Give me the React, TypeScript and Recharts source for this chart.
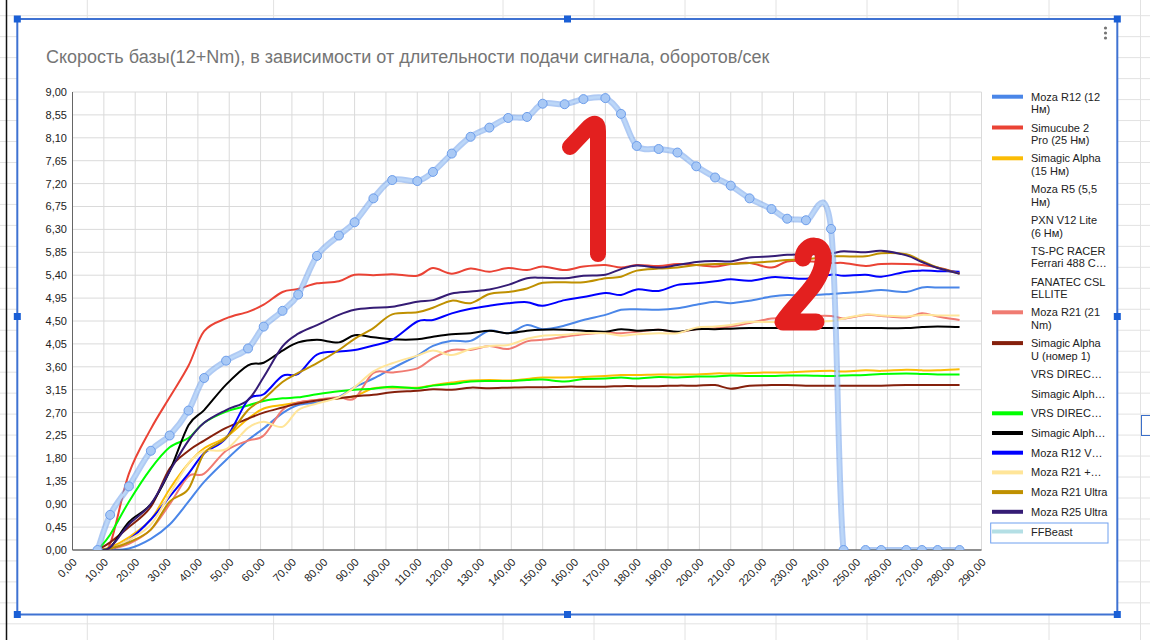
import React from "react";
import { LineChart, Line, XAxis, YAxis, CartesianGrid } from "recharts";

// длительность сигнала (ось X) — общая для всех рядов
const xs = [8, 12, 18, 25, 31, 37, 42, 49, 56, 61, 67, 72, 78, 85, 90, 96, 102, 110, 115, 121, 127, 133, 139, 145, 150, 157, 163, 170, 175, 180, 187, 193, 199, 205, 210, 216, 223, 228, 234, 242, 246, 253, 258, 266, 271, 276, 283];

const mozaR12 = [0, 0, 0.03, 0.22, 0.5, 0.95, 1.34, 1.77, 2.16, 2.39, 2.69, 2.85, 2.9, 3.01, 3.2, 3.37, 3.57, 3.82, 4.01, 4.11, 4.11, 4.31, 4.26, 4.42, 4.34, 4.41, 4.52, 4.62, 4.72, 4.73, 4.72, 4.75, 4.82, 4.88, 4.85, 4.9, 4.98, 5.01, 5.0, 5.03, 5.05, 5.08, 5.11, 5.07, 5.16, 5.16, 5.16];
const simucube = [0, 0.12, 1.5, 2.38, 3.0, 3.62, 4.3, 4.55, 4.68, 4.82, 5.07, 5.13, 5.24, 5.28, 5.41, 5.4, 5.42, 5.39, 5.54, 5.43, 5.53, 5.47, 5.54, 5.5, 5.57, 5.5, 5.57, 5.6, 5.55, 5.6, 5.58, 5.62, 5.6, 5.57, 5.62, 5.64, 5.55, 5.67, 5.68, 5.64, 5.64, 5.58, 5.62, 5.62, 5.6, 5.55, 5.44];
const simagic15 = [0, 0.05, 0.25, 0.6, 1.2, 1.7, 2.0, 2.22, 2.58, 2.78, 2.85, 2.9, 2.95, 2.98, 3.02, 3.18, 3.19, 3.19, 3.24, 3.29, 3.33, 3.34, 3.33, 3.36, 3.39, 3.39, 3.4, 3.42, 3.44, 3.44, 3.45, 3.45, 3.45, 3.47, 3.47, 3.48, 3.49, 3.49, 3.51, 3.52, 3.51, 3.53, 3.52, 3.54, 3.53, 3.53, 3.55];
const mozaR21 = [0, 0.02, 0.12, 0.4, 0.9, 1.45, 1.5, 1.95, 2.15, 2.25, 2.75, 2.9, 2.95, 3.0, 2.98, 3.48, 3.49, 3.57, 3.77, 3.93, 3.93, 4.01, 3.95, 4.1, 4.13, 4.19, 4.24, 4.27, 4.26, 4.29, 4.33, 4.28, 4.34, 4.36, 4.39, 4.46, 4.55, 4.55, 4.59, 4.6, 4.55, 4.62, 4.6, 4.57, 4.65, 4.59, 4.52];
const simagicU = [0, 0.15, 0.45, 0.85, 1.6, 1.95, 2.15, 2.4, 2.58, 2.7, 2.8, 2.88, 2.94, 2.98, 3.02, 3.05, 3.1, 3.13, 3.16, 3.15, 3.19, 3.18, 3.19, 3.2, 3.2, 3.21, 3.21, 3.21, 3.22, 3.22, 3.22, 3.23, 3.23, 3.24, 3.17, 3.23, 3.24, 3.24, 3.23, 3.23, 3.23, 3.23, 3.23, 3.24, 3.24, 3.24, 3.24];
const vrsGreen = [0, 0.3, 0.95, 1.6, 2.02, 2.2, 2.5, 2.72, 2.84, 2.93, 2.98, 3.0, 3.06, 3.12, 3.15, 3.17, 3.21, 3.18, 3.23, 3.26, 3.31, 3.32, 3.32, 3.34, 3.35, 3.31, 3.36, 3.37, 3.39, 3.37, 3.4, 3.39, 3.41, 3.41, 3.43, 3.42, 3.42, 3.43, 3.43, 3.42, 3.43, 3.44, 3.46, 3.47, 3.46, 3.45, 3.45];
const simagicBlack = [0, 0.05, 0.55, 0.9, 1.55, 2.45, 2.75, 3.25, 3.63, 3.68, 3.92, 4.08, 4.13, 4.08, 4.22, 4.18, 4.14, 4.14, 4.19, 4.24, 4.26, 4.31, 4.26, 4.31, 4.33, 4.33, 4.31, 4.29, 4.34, 4.31, 4.33, 4.29, 4.34, 4.34, 4.35, 4.36, 4.36, 4.36, 4.36, 4.36, 4.36, 4.36, 4.36, 4.36, 4.38, 4.39, 4.38];
const mozaR12V = [0, 0.02, 0.2, 0.6, 1.05, 1.5, 1.9, 2.2, 2.95, 3.06, 3.42, 3.46, 3.84, 3.9, 3.93, 4.02, 4.13, 4.49, 4.52, 4.65, 4.74, 4.8, 4.85, 4.87, 4.8, 4.91, 4.97, 5.05, 5.01, 5.12, 5.09, 5.21, 5.24, 5.28, 5.32, 5.29, 5.36, 5.35, 5.33, 5.41, 5.39, 5.41, 5.37, 5.47, 5.49, 5.48, 5.47];
const mozaR21Plus = [0, 0.02, 0.2, 0.5, 1.1, 1.7, 1.95, 1.98, 2.4, 2.52, 2.42, 2.75, 2.88, 3.0, 3.2, 3.51, 3.67, 3.82, 3.92, 3.83, 3.95, 4.01, 4.03, 4.15, 4.21, 4.23, 4.26, 4.26, 4.21, 4.24, 4.26, 4.26, 4.37, 4.39, 4.42, 4.48, 4.48, 4.48, 4.49, 4.5, 4.55, 4.63, 4.61, 4.59, 4.62, 4.61, 4.61];
const mozaR21Ultra = [0, 0.03, 0.15, 0.4, 0.95, 1.2, 1.9, 2.2, 2.75, 2.97, 3.3, 3.48, 3.67, 3.93, 4.15, 4.36, 4.63, 4.67, 4.76, 4.9, 4.85, 5.03, 5.07, 5.14, 5.25, 5.26, 5.26, 5.34, 5.37, 5.49, 5.53, 5.55, 5.6, 5.62, 5.62, 5.64, 5.67, 5.7, 5.71, 5.77, 5.77, 5.77, 5.83, 5.81, 5.68, 5.55, 5.43];
const mozaR25Ultra = [0, 0.05, 0.5, 0.9, 1.55, 2.15, 2.5, 2.75, 2.95, 3.4, 4.0, 4.25, 4.42, 4.62, 4.72, 4.76, 4.78, 4.88, 4.91, 5.04, 5.08, 5.12, 5.21, 5.34, 5.35, 5.34, 5.39, 5.41, 5.52, 5.59, 5.55, 5.6, 5.66, 5.68, 5.67, 5.75, 5.77, 5.8, 5.81, 5.83, 5.87, 5.85, 5.88, 5.79, 5.66, 5.54, 5.43];
const ffbeast = [0, 0.69, 1.25, 1.95, 2.25, 2.74, 3.38, 3.72, 3.96, 4.39, 4.7, 5.02, 5.78, 6.18, 6.44, 6.91, 7.27, 7.25, 7.43, 7.79, 8.12, 8.3, 8.49, 8.51, 8.77, 8.76, 8.86, 8.88, 8.57, 7.94, 7.88, 7.81, 7.54, 7.32, 7.16, 6.91, 6.7, 6.51, 6.48, 6.31, 0, 0, 0, 0, 0, 0, 0];

const xTicks = [0, 10, 20, 30, 40, 50, 60, 70, 80, 90, 100, 110, 120, 130, 140, 150, 160, 170, 180, 190, 200, 210, 220, 230, 240, 250, 260, 270, 280, 290];
const yTicks = [0, 0.45, 0.9, 1.35, 1.8, 2.25, 2.7, 3.15, 3.6, 4.05, 4.5, 4.95, 5.4, 5.85, 6.3, 6.75, 7.2, 7.65, 8.1, 8.55, 9];

const title = "Скорость базы(12+Nm), в зависимости от длительности подачи сигнала, оборотов/сек";

// легенда: строки подписи и цвет (null — ряд без линии)
const legendItems: { lines: string[]; color: string | null }[] = [
  { lines: ["Moza R12 (12", "Нм)"], color: "#4a86e8" },
  { lines: ["Simucube 2", "Pro (25 Нм)"], color: "#ea4335" },
  { lines: ["Simagic Alpha", "(15 Нм)"], color: "#fbbc04" },
  { lines: ["Moza R5 (5,5", "Нм)"], color: null },
  { lines: ["PXN V12 Lite", "(6 Нм)"], color: null },
  { lines: ["TS-PC RACER", "Ferrari 488 C…"], color: null },
  { lines: ["FANATEC CSL", "ELLITE"], color: null },
  { lines: ["Moza R21 (21", "Nm)"], color: "#f07b72" },
  { lines: ["Simagic Alpha", "U (номер 1)"], color: "#85200c" },
  { lines: ["VRS DIREC…"], color: null },
  { lines: ["Simagic Alph…"], color: null },
  { lines: ["VRS DIREC…"], color: "#00ff00" },
  { lines: ["Simagic Alph…"], color: "#000000" },
  { lines: ["Moza R12 V…"], color: "#0000ff" },
  { lines: ["Moza R21 +…"], color: "#ffe599" },
  { lines: ["Moza R21 Ultra"], color: "#bf9000" },
  { lines: ["Moza R25 Ultra"], color: "#351c75" },
  { lines: ["FFBeast"], color: "#b4dfe5" },
];

const series = [
  { key: "mozaR12", color: "#4a86e8", values: mozaR12 },
  { key: "simucube", color: "#ea4335", values: simucube },
  { key: "simagic15", color: "#fbbc04", values: simagic15 },
  { key: "mozaR21", color: "#f07b72", values: mozaR21 },
  { key: "simagicU", color: "#85200c", values: simagicU },
  { key: "vrsGreen", color: "#00ff00", values: vrsGreen },
  { key: "simagicBlack", color: "#000000", values: simagicBlack },
  { key: "mozaR12V", color: "#0000ff", values: mozaR12V },
  { key: "mozaR21Plus", color: "#ffe599", values: mozaR21Plus },
  { key: "mozaR21Ultra", color: "#bf9000", values: mozaR21Ultra },
  { key: "mozaR25Ultra", color: "#351c75", values: mozaR25Ultra },
];

const rows = xs.map((x, i) => {
  const row: Record<string, number> = { x, ffbeast: ffbeast[i] };
  series.forEach((s) => (row[s.key] = s.values[i]));
  return row;
});

const FONT = "Arial, 'Liberation Sans', sans-serif";
const fmt = (v: number) => v.toFixed(2).replace(".", ",");

// сглаживание как в Google Sheets (Catmull-Rom)
function smoothCurve(context: any) {
  let pts: number[][] = [];
  return {
    areaStart() {},
    areaEnd() {},
    lineStart() {
      pts = [];
    },
    point(x: number, y: number) {
      pts.push([+x, +y]);
    },
    lineEnd() {
      const n = pts.length;
      if (!n) return;
      context.moveTo(pts[0][0], pts[0][1]);
      for (let i = 0; i < n - 1; i++) {
        const p0 = pts[i > 0 ? i - 1 : 0];
        const p1 = pts[i];
        const p2 = pts[i + 1];
        const p3 = pts[i + 2 < n ? i + 2 : n - 1];
        context.bezierCurveTo(
          p1[0] + (p2[0] - p0[0]) / 6,
          p1[1] + (p2[1] - p0[1]) / 6,
          p2[0] - (p3[0] - p1[0]) / 6,
          p2[1] - (p3[1] - p1[1]) / 6,
          p2[0],
          p2[1]
        );
      }
    },
  };
}

const XTick = ({ x, y, payload }: any) => {
  const tx = x + 5;
  const ty = y + 13;
  return (
    <text x={tx} y={ty} transform={`rotate(-45 ${tx} ${ty})`} textAnchor="end" fontSize={11} fill="#222" fontFamily={FONT}>
      {fmt(payload.value)}
    </text>
  );
};

const rowLines = Array.from({ length: 31 }, (_, k) => 15.7 + 20.97 * k);
const colLines = [87.3, 273.6, 503, 594, 685, 776, 867, 958, 1049, 1140.5];
const handles = [
  [17.3, 19], [567.5, 19], [1117.3, 19],
  [17.3, 316.5], [1117.3, 316.5],
  [17.3, 614.5], [567.5, 614.5], [1117.3, 614.5],
];

export default function App() {
  let ly = 96.7;
  const legendPos = legendItems.map((it) => {
    const y = ly;
    ly += it.lines.length === 2 ? 30.8 : 19.7;
    return y;
  });

  return (
    <div style={{ position: "absolute", left: 0, top: 0, width: 1150, height: 640, overflow: "hidden", background: "#fff" }}>
      {/* фон таблицы */}
      <svg width={1150} height={640} style={{ position: "absolute", left: 0, top: 0 }}>
        {rowLines.map((y) => (
          <line key={"r" + y} x1={0} x2={1150} y1={y} y2={y} stroke="#e2e2e2" strokeWidth={1} />
        ))}
        {colLines.map((x) => (
          <line key={"c" + x} x1={x} x2={x} y1={0} y2={640} stroke="#e2e2e2" strokeWidth={1} />
        ))}
        <line x1={6.5} x2={6.5} y1={0} y2={640} stroke="#111" strokeWidth={1.5} />
        <rect x={1141.5} y={415.5} width={14} height={20} fill="none" stroke="#3b6fc9" strokeWidth={1} />
        <rect x={17.3} y={19} width={1100} height={595.5} fill="#fff" />
      </svg>

      <div style={{ position: "absolute", left: 0, top: 0 }}>
        <LineChart width={1150} height={640} data={rows} margin={{ top: 92, right: 168.5, bottom: 50, left: 12.5 }}>
          <CartesianGrid stroke="#dadada" strokeWidth={1} />
          <XAxis
            dataKey="x"
            type="number"
            domain={[0, 290]}
            ticks={xTicks}
            interval={0}
            allowDataOverflow
            height={40}
            tickLine={false}
            tickSize={0}
            tickMargin={0}
            axisLine={{ stroke: "#333", strokeWidth: 1 }}
            tick={<XTick />}
          />
          <YAxis
            type="number"
            domain={[0, 9]}
            ticks={yTicks}
            interval={0}
            allowDataOverflow
            width={60}
            tickLine={false}
            tickSize={0}
            tickMargin={5.5}
            axisLine={{ stroke: "#666", strokeWidth: 1 }}
            tickFormatter={fmt}
            tick={{ fontSize: 11, fill: "#222", fontFamily: FONT }}
          />
          {series.map((s) => (
            <Line
              key={s.key}
              dataKey={s.key}
              type={smoothCurve as any}
              stroke={s.color}
              strokeWidth={2}
              dot={false}
              activeDot={false}
              isAnimationActive={false}
            />
          ))}
          {/* FFBeast в выделенном состоянии: полупрозрачный ореол + линия с точками */}
          <Line
            dataKey="ffbeast"
            type={smoothCurve as any}
            stroke="#6d9eeb"
            strokeOpacity={0.55}
            strokeWidth={6}
            dot={false}
            activeDot={false}
            isAnimationActive={false}
          />
          <Line
            dataKey="ffbeast"
            type={smoothCurve as any}
            stroke="#bcd7f8"
            strokeWidth={2.5}
            dot={{ r: 4.5, fill: "#a9c9f5", stroke: "#6d9eeb", strokeWidth: 1 }}
            activeDot={false}
            isAnimationActive={false}
          />
        </LineChart>
      </div>

      {/* заголовок, легенда, рамка выделения, пометки */}
      <svg width={1150} height={640} style={{ position: "absolute", left: 0, top: 0, pointerEvents: "none" }}>
        <text x={46} y={63} fontSize={18} fill="#757575" fontFamily={FONT}>
          {title}
        </text>

        {legendItems.map((it, i) => (
          <g key={i}>
            {it.color && (
              <line x1={992} x2={1023} y1={legendPos[i]} y2={legendPos[i]} stroke={it.color} strokeWidth={4} />
            )}
            {it.lines.map((t, j) => (
              <text key={j} x={1031} y={legendPos[i] + 4 + j * 12.6} fontSize={11} fill="#222" fontFamily={FONT}>
                {t}
              </text>
            ))}
          </g>
        ))}
        <rect x={990.7} y={523} width={117.3} height={20} fill="none" stroke="#6fa0ef" strokeWidth={1} />

        <circle cx={1105.5} cy={28} r={1.6} fill="#757575" />
        <circle cx={1105.5} cy={33} r={1.6} fill="#757575" />
        <circle cx={1105.5} cy={38} r={1.6} fill="#757575" />

        <rect x={17.3} y={19} width={1100} height={595.5} fill="none" stroke="#3f72d2" strokeWidth={2} />
        {handles.map(([hx, hy], i) => (
          <rect key={i} x={hx - 3.5} y={hy - 3.5} width={7} height={7} fill="#1a5fd6" />
        ))}

        <path d="M 570 147 L 589 127 Q 598 119 598 131 L 598 254" fill="none" stroke="#e3201f" strokeWidth={16} strokeLinecap="round" strokeLinejoin="round" />
        <path d="M 803 258 C 804 243, 826 240, 823 262 C 821 285, 796 302, 783 322 L 816 322" fill="none" stroke="#e3201f" strokeWidth={17} strokeLinecap="round" strokeLinejoin="round" />
      </svg>
    </div>
  );
}
